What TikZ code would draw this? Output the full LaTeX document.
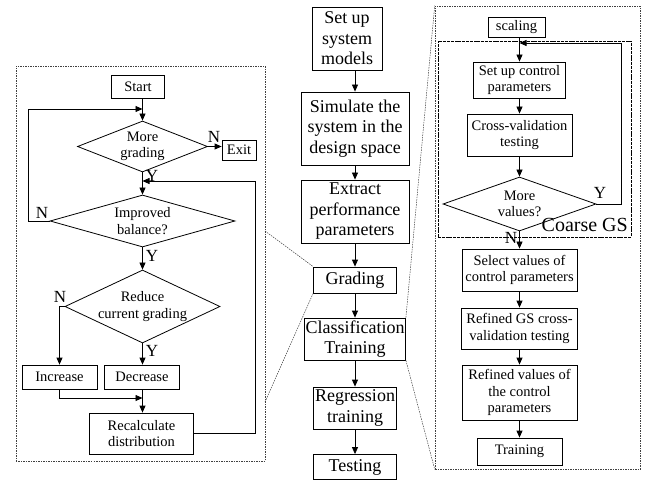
\documentclass[tikz,border=0pt]{standalone}
\usepackage{fontspec}
\setmainfont{Liberation Serif}
\usetikzlibrary{shapes.geometric,arrows.meta}
\newcommand{\bigtxt}{\fontsize{18bp}{20.5bp}\selectfont}
\newcommand{\smalltxt}{\fontsize{14.5bp}{16.5bp}\selectfont}
\newcommand{\yntxt}{\fontsize{17bp}{19bp}\selectfont}
\tikzset{
	box/.style={shape=rectangle, draw, line width=0.8bp, align=center, inner sep=1bp, font=\smalltxt},
	midbox/.style={box, font=\bigtxt},
	decision/.style={shape=diamond, draw, line width=0.8bp, align=center, inner sep=0bp, font=\smalltxt},
	panel/.style={shape=rectangle, draw=black!75, line width=0.6bp, dash pattern=on 1.5bp off 1bp, inner sep=0},
	zoomline/.style={draw=black!75, line width=0.5bp, dash pattern=on 1.5bp off 1bp},
	arr/.style={line width=0.8bp, -{Triangle[length=7bp,width=6bp]}},
	yn/.style={font=\yntxt, inner sep=0}
}
\begin{document}
\begin{tikzpicture}[x=1bp, y=-1bp]
	\useasboundingbox (0,0) rectangle (649,481);
	\node[panel, minimum width=249bp, minimum height=395bp] (lpanel) at (140.5, 263.5){};
	\node[panel, minimum width=205bp, minimum height=463bp] (rpanel) at (537.5, 237.5){};
	\node[shape=rectangle, draw, line width=0.6bp, dash pattern=on 3bp off 0.8bp, inner sep=0, minimum width=193bp, minimum height=196bp] (coarse) at (534.5, 139){};

	\node[box, minimum width=53bp, minimum height=23bp] (start) at (138, 86.5){Start};
	\node[decision, shape aspect=2.5, minimum width=130bp, minimum height=51bp] (more) at (142.5, 146.5){More\\grading};
	\node[box, minimum width=34bp, minimum height=20bp] (exit) at (239, 150){Exit};
	\node[decision, shape aspect=3.5, minimum width=185bp, minimum height=52bp] (impr) at (142.5, 221){Improved\\balance?};
	\node[decision, shape aspect=2.2, minimum width=155bp, minimum height=73bp] (reduce) at (142.5, 306.5){Reduce\\current grading};
	\node[box, minimum width=75bp, minimum height=24bp] (incr) at (59.5, 377){Increase};
	\node[box, minimum width=75bp, minimum height=24bp] (decr) at (142, 377){Decrease};
	\node[box, minimum width=104bp, minimum height=41bp] (recalc) at (141.5, 433.5){Recalculate\\distribution};
	\coordinate (jtop) at (142.5, 109);
	\coordinate (jmid) at (142.5, 181);
	\coordinate (jlow) at (142.5, 398);
	\draw[arr] (more.north |- start.south) -- (more.north);
	\draw[arr] (more.east) -- (exit.west |- more.east);
	\draw[arr] (more.south) -- (impr.north);
	\draw[arr] (impr.west) -- ++(-21, 0) |- (jtop);
	\draw[arr] (impr.south) -- (reduce.north);
	\draw[arr] (reduce.west) -| (incr.north);
	\draw[arr] (reduce.south) -- (reduce.south |- decr.north);
	\draw[arr] (incr.south) |- (jlow);
	\draw[arr] (reduce.south |- decr.south) -- (reduce.south |- recalc.north);
	\draw[arr] (recalc.east) -- ++(61, 0) |- (jmid);
	\node[yn] at (214, 137) {N};
	\node[yn] at (152, 176) {Y};
	\node[yn] at (42, 213) {N};
	\node[yn] at (152, 256) {Y};
	\node[yn] at (60, 297) {N};
	\node[yn] at (152, 351) {Y};

	\node[midbox, minimum width=70bp, minimum height=63bp] (setup) at (347, 38.5){Set up\\system\\models};
	\node[midbox, minimum width=108bp, minimum height=73bp] (sim) at (355, 128.5){Simulate the\\system in the\\design space};
	\node[midbox, minimum width=108bp, minimum height=63bp] (extr) at (355, 211.5){Extract\\performance\\parameters};
	\node[midbox, minimum width=83bp, minimum height=26bp] (grad) at (355, 280){Grading};
	\node[midbox, minimum width=101bp, minimum height=42bp] (cls) at (355, 339){Classification\\Training};
	\node[midbox, minimum width=83bp, minimum height=42bp] (regr) at (355, 408){Regression\\training};
	\node[midbox, minimum width=83bp, minimum height=25bp] (test) at (355, 467){Testing};
	\draw[arr] (sim.north |- setup.south) -- (sim.north);
	\draw[arr] (sim.south) -- (extr.north);
	\draw[arr] (extr.south) -- (grad.north);
	\draw[arr] (grad.south) -- (cls.north);
	\draw[arr] (cls.south) -- (regr.north);
	\draw[arr] (regr.south) -- (test.north);

	\node[box, minimum width=57bp, minimum height=20bp] (scaling) at (516.5, 27){scaling};
	\node[box, minimum width=92bp, minimum height=36bp] (ctrl) at (519.5, 80){Set up control\\parameters};
	\node[box, minimum width=105bp, minimum height=42bp] (cv) at (519.5, 135){Cross-validation\\testing};
	\node[decision, shape aspect=3.6, minimum width=153bp, minimum height=54bp] (morev) at (519.5, 204){More\\values?};
	\node[box, minimum width=115bp, minimum height=42bp] (sel) at (519.5, 270){Select values of\\control parameters};
	\node[box, minimum width=116bp, minimum height=41bp] (refgs) at (519.5, 328.5){Refined GS cross-\\validation testing};
	\node[box, minimum width=115bp, minimum height=55bp] (refval) at (519.5, 392.5){Refined values of\\the control\\parameters};
	\node[box, minimum width=85bp, minimum height=27bp] (train) at (519.5, 451.5){Training};
	\node[font=\fontsize{20bp}{22bp}\selectfont, anchor=base east, inner sep=0] (gslabel) at (628, 232){Coarse GS};
	\coordinate (jgs) at (519.5, 43);
	\draw[arr] (ctrl.north |- scaling.south) -- (ctrl.north);
	\draw[arr] (ctrl.south) -- (cv.north);
	\draw[arr] (cv.south) -- (morev.north);
	\draw[arr] (morev.east) -- ++(25, 0) |- (jgs);
	\draw[arr] (morev.south) -- (sel.north);
	\draw[arr] (sel.south) -- (refgs.north);
	\draw[arr] (refgs.south) -- (refval.north);
	\draw[arr] (refval.south) -- (train.north);
	\node[yn] at (600, 193) {Y};
	\node[yn] at (511, 238) {N};

	\coordinate (lhook1) at (265, 231);
	\coordinate (lhook2) at (265, 402);
	\draw[zoomline] (lhook1) -- (grad.north west);
	\draw[zoomline] (lhook2) -- (grad.south west);
	\draw[zoomline] (cls.north east) -- (rpanel.north west);
	\draw[zoomline] (cls.south east) -- (rpanel.south west);
\end{tikzpicture}
\end{document}
